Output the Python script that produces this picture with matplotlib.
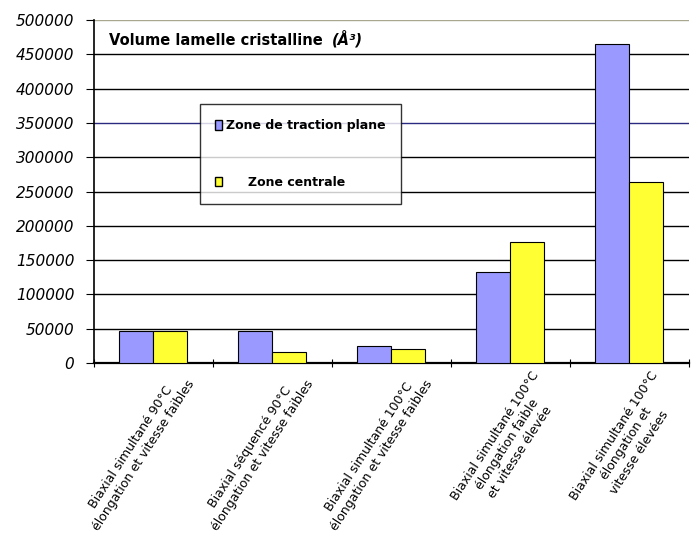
import numpy as np
import matplotlib.pyplot as plt
from matplotlib.patches import Patch

# data
categories = [
    "Biaxial simultané 90°C\nélongation et vitesse faibles",
    "Biaxial séquencé 90°C\nélongation et vitesse faibles",
    "Biaxial simultané 100°C\nélongation et vitesse faibles",
    "Biaxial simultané 100°C\nélongation faible\net vitesse élevée",
    "Biaxial simultané 100°C\nélongation et\nvitesse élevées",
]
traction_plane = [47000, 47000, 25000, 132500, 465000]
zone_centrale = [47000, 16000, 20000, 176500, 264000]
yticks = list(range(0, 500001, 50000))

blue = "#9999FF"
yellow = "#FFFF33"

fig = plt.figure(figsize=(6.95, 5.45), dpi=100)
ax = fig.add_axes([0.135, 0.334, 0.856, 0.629])

x = np.arange(len(categories))
w = 0.285
ax.bar(x - w / 2, traction_plane, w, color=blue, edgecolor="black", linewidth=0.8, zorder=3)
ax.bar(x + w / 2, zone_centrale, w, color=yellow, edgecolor="black", linewidth=0.8, zorder=3)

ax.set_xlim(-0.5, len(categories) - 0.5)
ax.set_ylim(0, 500000)
ax.set_yticks(yticks)
ax.set_yticklabels([str(v) for v in yticks], fontsize=11, style="italic")
for v in yticks[1:]:
    col = "#2a2a80" if v == 350000 else "black"
    if v == 500000:
        col = "#a8a890"
    ax.axhline(v, color=col, linewidth=1.0, zorder=1)

# category ticks sit on the boundaries, labels go at the centres
ax.set_xticks(np.arange(len(categories) + 1) - 0.5)
ax.set_xticklabels([])
ax.tick_params(axis="x", direction="inout", length=6)
ax.tick_params(axis="y", direction="out", length=6, pad=8)
for i, lab in enumerate(categories):
    ax.text(i + 0.17, -9000, lab, rotation=57, rotation_mode="anchor",
            ha="right", va="top", fontsize=9,
            multialignment="center", transform=ax.transData)

for s in ["top", "right"]:
    ax.spines[s].set_visible(False)
ax.spines["left"].set_linewidth(1.2)
ax.spines["bottom"].set_linewidth(1.6)

ax.text(0.025, 0.94, "Volume lamelle cristalline", transform=ax.transAxes,
        fontsize=10.5, fontweight="bold", va="center", ha="left",
        bbox=dict(facecolor="white", edgecolor="none", pad=2))
ax.text(0.4, 0.945, "(Å³)", transform=ax.transAxes, fontsize=10.5,
        fontweight="bold", style="italic", va="center", ha="left",
        bbox=dict(facecolor="white", edgecolor="none", pad=2))

handles = [Patch(facecolor=blue, edgecolor="black"),
           Patch(facecolor=yellow, edgecolor="black")]
leg = ax.legend(handles, ["Zone de traction plane", "Zone centrale"],
                loc="upper left", bbox_to_anchor=(0.178, 0.755),
                prop={"size": 9, "weight": "bold"}, frameon=True, fancybox=False,
                edgecolor="black", handlelength=0.6, handleheight=0.8,
                labelspacing=3.5, borderpad=1.2, handletextpad=0.3,
                borderaxespad=0)
leg.get_frame().set_linewidth(1.0)
leg.set_zorder(5)
# second entry is centred in the box in the original
leg.get_texts()[1].set_position((22, 0))

fig.savefig("out.png", dpi=100)
